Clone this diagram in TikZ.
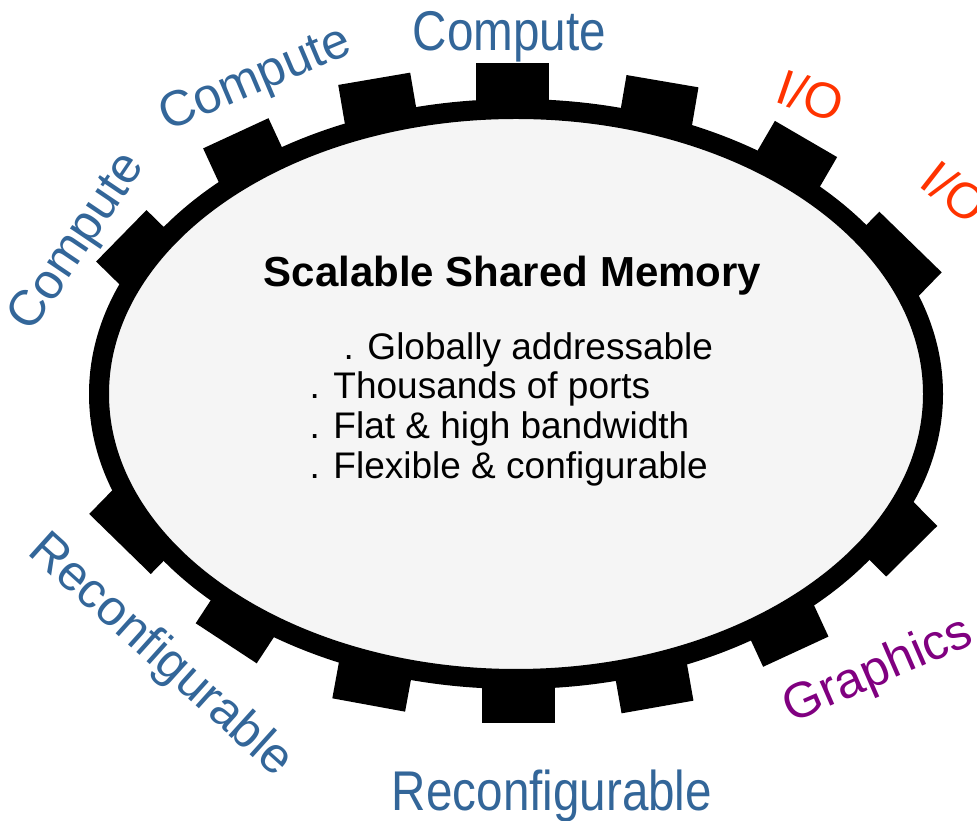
\documentclass[tikz,border=0pt]{standalone}
\usepackage{fontspec}
\setmainfont{Liberation Sans}
\newfontfamily\narrowfont[FakeStretch=0.85]{Liberation Sans}
\definecolor{portblue}{RGB}{51,102,153}
\definecolor{iored}{RGB}{255,51,0}
\definecolor{gfxpurple}{RGB}{128,0,128}
\definecolor{memfill}{RGB}{245,245,245}

\tikzset{
  port/.style={fill=black},
  sidelabel/.style={inner sep=0pt, font=\fontsize{50}{60}\selectfont},
  flatlabel/.style={inner sep=0pt, anchor=base, text=portblue,
    font=\narrowfont\fontsize{56}{66}\selectfont},
  bullet/.style={inner sep=0pt, anchor=base west, font=\fontsize{37}{40}\selectfont},
}

\begin{document}
\begin{tikzpicture}[x=1pt,y=1pt]
    \clip (0,0) rectangle (977,821);

    % ports, top half
    \fill[port, shift={(512.5,757.7)}, rotate=0]     (-36.5,-60) rectangle (36.5,0);
    \fill[port, shift={(662.5,739.8)}, rotate=-9.7]  (-36.5,-60) rectangle (36.5,0);
    \fill[port, shift={(806,682)}, rotate=-30.2]     (-36,-60) rectangle (36,0);
    \fill[port, shift={(910.5,579)}, rotate=-44.2]   (-43.5,-60) rectangle (43.5,0);
    \fill[port, shift={(374.2,742.2)}, rotate=9.7]   (-36.5,-60) rectangle (36.5,0);
    \fill[port, shift={(235.8,687.7)}, rotate=24.8]  (-36,-60) rectangle (36,0);
    \fill[port, shift={(121.3,585.2)}, rotate=45.6]  (-36,-60) rectangle (36,0);

    % ports, bottom half
    \fill[port, shift={(518.7,97.7)}, rotate=0]      (-36.5,0) rectangle (36.5,60);
    \fill[port, shift={(657.5,114)}, rotate=10]      (-36.5,0) rectangle (36.5,60);
    \fill[port, shift={(795.8,169.3)}, rotate=24.8]  (-36,0) rectangle (36,60);
    \fill[port, shift={(911.7,269.7)}, rotate=44.7]  (-36,0) rectangle (36,60);
    \fill[port, shift={(368.7,116)}, rotate=-10.4]   (-37,0) rectangle (37,60);
    \fill[port, shift={(226.2,177.7)}, rotate=-33.3] (-36.5,0) rectangle (36.5,60);
    \fill[port, shift={(120,277)}, rotate=-44.3]     (-43,0) rectangle (43,60);

    % the memory ring
    \draw[line width=20pt, fill=memfill] (516,427) ellipse [x radius=417pt, y radius=285pt];

    \node[inner sep=0pt, anchor=base, font=\fontsize{42}{50}\selectfont\bfseries] (title) at (512.5,534.3) {Scalable Shared Memory};
    \node[bullet] (glob)  at (343.3,461.7) {. Globally addressable};
    \node[bullet] (ports) at (309.3,422.7) {. Thousands of ports};
    \node[bullet] (flat)  at (309.3,382.7) {. Flat \& high bandwidth};
    \node[bullet] (flex)  at (309.3,342.7) {. Flexible \& configurable};

    % labels round the ring
    \node[flatlabel] (ctop) at (509.5,770) {Compute};
    \node[sidelabel, text=portblue, rotate=23] (cmid) at (256,740) {Compute};
    \node[sidelabel, text=portblue, rotate=56] (cleft) at (78.5,578) {Compute};
    \node[sidelabel, text=iored, rotate=-19] (io1) at (811,725.5) {I/O};
    \node[sidelabel, text=iored, rotate=-38] (io2) at (955,629) {I/O};
    \node[sidelabel, text=gfxpurple, rotate=23.5] (gfx) at (878.5,149.5) {Graphics};
    \node[sidelabel, text=portblue, rotate=-42] (rleft) at (160,165) {Reconfigurable};
    \node[flatlabel] (rbot) at (552,10.3) {Reconfigurable};
\end{tikzpicture}
\end{document}
